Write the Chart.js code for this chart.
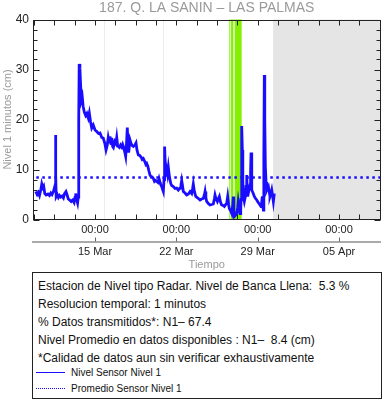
<!DOCTYPE html>
<html><head><meta charset="utf-8">
<script src="https://cdn.jsdelivr.net/npm/chart.js@4"></script>
<style>
html,body{margin:0;padding:0;background:#fff;}
body{width:382px;height:404px;overflow:hidden;position:relative;font-family:"Liberation Sans",Arial,sans-serif;color:#111;}
#wrap{position:absolute;left:0;top:0;width:382px;height:272px;}
#caja{position:absolute;left:32px;top:272px;width:348px;height:125px;border:1px solid #222;}
.lin{position:absolute;left:5px;font-size:12px;line-height:14px;white-space:pre;}
.ley{position:absolute;left:3px;font-size:10px;line-height:12px;white-space:pre;}
.mues{display:inline-block;width:29px;vertical-align:middle;margin-right:6px;position:relative;top:-1px;}
</style></head>
<body>
<div id="wrap"><canvas id="c" width="382" height="272"></canvas></div>
<div id="caja">
  <div class="lin" style="top:6px">Estacion de Nivel tipo Radar. Nivel de Banca Llena:  5.3 %</div>
  <div class="lin" style="top:24px">Resolucion temporal: 1 minutos</div>
  <div class="lin" style="top:42px">% Datos transmitidos*: N1– 67.4</div>
  <div class="lin" style="top:60px">Nivel Promedio en datos disponibles : N1–  8.4 (cm)</div>
  <div class="lin" style="top:78px">*Calidad de datos aun sin verificar exhaustivamente</div>
  <div class="ley" style="top:94px"><span class="mues" style="border-top:1.5px solid #1a0dff"></span>Nivel Sensor Nivel 1</div>
  <div class="ley" style="top:110px"><span class="mues" style="border-top:1.5px dotted #1a0dff"></span>Promedio Sensor Nivel 1</div>
</div>
<script>
// tiempo: días desde 15 Mar 00:00
const tiempo = [-5.10,-4.98,-4.88,-4.78,-4.66,-4.58,-4.50,-4.42,-4.32,-4.20,-4.05,-3.92,-3.80,-3.70,-3.58,-3.50,-3.44,-3.40,-3.37,-3.34,-3.25,-3.15,-3.05,-2.95,-2.84,-2.72,-2.62,-2.50,-2.40,-2.30,-2.18,-2.05,-1.92,-1.80,-1.72,-1.66,-1.58,-1.50,-1.44,-1.40,-1.36,-1.30,-1.24,-1.18,-1.10,-1.02,-0.92,-0.80,-0.70,-0.58,-0.49,-0.38,-0.28,-0.15,0.00,0.15,0.30,0.43,0.58,0.71,0.85,0.95,1.05,1.14,1.22,1.29,1.38,1.44,1.52,1.58,1.70,1.80,1.87,1.95,2.01,2.10,2.20,2.30,2.38,2.44,2.55,2.64,2.72,2.78,2.84,2.90,3.01,3.10,3.20,3.30,3.44,3.53,3.62,3.73,3.85,3.96,4.06,4.16,4.28,4.38,4.45,4.55,4.63,4.73,4.82,4.92,5.02,5.12,5.22,5.31,5.42,5.51,5.60,5.68,5.74,5.82,5.88,5.94,5.99,6.05,6.10,6.17,6.24,6.31,6.40,6.52,6.60,6.74,6.89,7.03,7.17,7.32,7.40,7.46,7.53,7.60,7.75,7.89,8.04,8.18,8.32,8.40,8.46,8.55,8.67,8.85,9.04,9.18,9.32,9.42,9.47,9.54,9.61,9.75,9.90,10.05,10.18,10.28,10.33,10.42,10.53,10.62,10.70,10.80,10.90,11.02,11.13,11.25,11.33,11.42,11.50,11.56,11.66,11.77,11.85,11.90,11.95,11.99,12.10,12.20,12.28,12.33,12.42,12.48,12.54,12.57,12.61,12.64,12.68,12.72,12.76,12.85,12.93,13.00,13.06,13.10,13.14,13.25,13.34,13.39,13.43,13.47,13.51,13.62,13.71,13.82,13.92,14.02,14.11,14.20,14.29,14.35,14.40,14.45,14.49,14.53,14.57,14.61,14.66,14.72,14.78,14.85,14.92,15.00,15.06,15.14,15.21,15.28,15.35,15.43];
const nivel = [5.6,5.0,5.4,4.8,6.0,7.1,6.4,6.7,5.2,4.9,5.1,4.8,5.3,5.0,5.6,6.3,5.8,16.9,9.0,4.6,5.0,4.4,4.8,4.5,4.7,4.3,5.2,5.6,4.9,4.1,3.9,3.6,3.9,3.4,4.4,5.2,4.0,3.3,4.5,20.0,31.1,30.3,27.0,23.9,24.6,22.6,21.5,20.8,21.2,20.3,21.3,19.5,18.3,18.9,17.9,17.6,17.2,17.3,16.4,16.3,15.2,13.9,14.8,16.4,15.5,16.6,15.2,16.3,14.6,14.4,15.6,15.2,16.4,14.7,14.6,14.4,14.9,14.5,15.0,14.6,13.6,12.6,15.5,18.4,15.0,13.4,15.9,15.2,14.8,14.6,14.9,15.3,13.8,12.9,12.8,12.5,12.0,12.2,11.6,11.0,11.2,10.6,9.8,8.9,8.6,8.5,8.2,7.6,7.8,7.6,7.4,8.2,7.4,6.8,6.6,6.0,5.6,8.0,14.6,11.0,8.6,9.9,9.0,10.4,8.6,7.2,6.8,6.6,6.2,6.3,5.9,6.3,7.0,7.8,6.8,5.6,5.3,4.9,5.1,5.6,5.2,6.2,7.1,5.6,4.6,4.3,3.9,4.1,4.2,5.0,5.6,4.4,3.6,3.2,2.9,3.0,3.1,4.2,4.9,4.1,3.6,4.2,4.6,3.5,2.9,2.8,2.6,3.0,3.2,4.6,3.0,2.2,1.8,1.2,2.8,4.6,2.0,0.6,0.9,1.2,2.4,3.6,2.2,1.2,2.0,4.0,12.0,18.7,13.9,8.0,4.6,3.6,4.5,6.6,8.9,6.0,4.6,5.9,6.9,9.5,13.4,8.5,5.9,5.2,4.6,4.2,3.9,3.5,3.2,2.9,2.6,3.5,4.6,2.5,1.9,12.0,28.9,20.0,10.6,7.5,5.9,6.3,6.6,5.5,4.6,5.2,5.9,4.8,3.6,5.2];
const promedio = 8.4;
const inicioPromedio = -5.05;
const rangoX = [-5.336, 24.57];
const rangoY = [0, 40];
const posMayores = [0, 7, 14, 21];
const etiquetasHora = ['00:00', '00:00', '00:00', '00:00'];
const etiquetasFecha = ['15 Mar', '22 Mar', '29 Mar', '05 Apr'];
const pasoMenorX = 1.75;
const pasoMenorY = 2;
const bandaVerde = [11.55, 12.62];
const franjasClaras = [[11.60, 11.71], [11.88, 12.05]];
const zonaGris = [15.33, 24.57];
const guias = [0.77, 5.85];
const titulo = '187. Q. LA SANIN – LAS PALMAS';

const AZUL = '#1a0dff';

const fondo = {
  id: 'fondo',
  beforeDatasetsDraw(chart) {
    const {ctx, chartArea: a, scales: {x}} = chart;
    ctx.save();
    ctx.strokeStyle = '#ececec'; ctx.lineWidth = 1;
    guias.forEach(g => { const p = Math.round(x.getPixelForValue(g)) + 0.5; ctx.beginPath(); ctx.moveTo(p, a.top); ctx.lineTo(p, a.bottom); ctx.stroke(); });
    ctx.fillStyle = '#e5e5e5';
    const g0 = x.getPixelForValue(zonaGris[0]), g1 = x.getPixelForValue(zonaGris[1]);
    ctx.fillRect(g0, a.top, g1 - g0, a.bottom - a.top);
    const v0 = x.getPixelForValue(bandaVerde[0]), v1 = x.getPixelForValue(bandaVerde[1]);
    ctx.fillStyle = '#84f000';
    ctx.fillRect(v0, a.top, v1 - v0, a.bottom - a.top);
    ctx.fillStyle = '#d6f7b4';
    franjasClaras.forEach(f => { const p0 = x.getPixelForValue(f[0]), p1 = x.getPixelForValue(f[1]); ctx.fillRect(p0, a.top, p1 - p0, a.bottom - a.top); });
    ctx.restore();
  }
};

const marco = {
  id: 'marco',
  afterDraw(chart) {
    const {ctx, chartArea: a, scales: {x, x2, y}} = chart;
    ctx.save();
    ctx.strokeStyle = '#222'; ctx.lineWidth = 1;
    const L = Math.round(a.left) + 0.5, R = Math.round(a.right) - 0.5, T = Math.round(a.top) + 0.5, B = Math.round(a.bottom) - 0.5;
    ctx.strokeRect(L, T, R - L, B - T);
    ctx.beginPath();
    for (let v = rangoY[0]; v <= rangoY[1]; v += pasoMenorY) {
      const p = Math.round(y.getPixelForValue(v)) + 0.5;
      const len = v % 10 === 0 ? 6 : 4;
      ctx.moveTo(L, p); ctx.lineTo(L + len, p);
      ctx.moveTo(R, p); ctx.lineTo(R - len, p);
    }
    for (let t = posMayores[0] - 3 * pasoMenorX; t <= rangoX[1]; t += pasoMenorX) {
      if (t < rangoX[0]) continue;
      const p = Math.round(x.getPixelForValue(t)) + 0.5;
      ctx.moveTo(p, T); ctx.lineTo(p, T + 5);
      ctx.moveTo(p, B); ctx.lineTo(p, B - 5);
    }
    ctx.stroke();
    ctx.strokeStyle = '#666';
    ctx.beginPath();
    posMayores.forEach(t => { const p = Math.round(x2.getPixelForValue(t)) + 0.5; ctx.moveTo(p, x2.top - 4); ctx.lineTo(p, x2.top); });
    ctx.stroke();
    ctx.fillStyle = '#9a9a9a';
    ctx.font = '14px "Liberation Sans", Arial, sans-serif';
    ctx.textAlign = 'center'; ctx.textBaseline = 'middle';
    ctx.fillText(titulo, (a.left + a.right) / 2, 8);
    ctx.restore();
  }
};

const fuente = '"Liberation Sans", Arial, sans-serif';
new Chart(document.getElementById('c'), {
  type: 'line',
  data: {
    datasets: [
      { label: 'Nivel Sensor Nivel 1', data: tiempo.map((t, i) => ({x: t, y: nivel[i]})), borderColor: AZUL, borderWidth: 2.8, pointRadius: 0, tension: 0, fill: false },
      { label: 'Promedio Sensor Nivel 1', data: [{x: inicioPromedio, y: promedio}, {x: rangoX[1], y: promedio}], borderColor: AZUL, borderWidth: 2.5, borderDash: [2.5, 3.5], pointRadius: 0, fill: false }
    ]
  },
  options: {
    responsive: false, animation: false, devicePixelRatio: 1,
    layout: { padding: { top: 19.5, right: 1.5, left: 0, bottom: 0 } },
    plugins: { legend: { display: false }, title: { display: false }, tooltip: { enabled: false } },
    scales: {
      x: {
        type: 'linear', position: 'bottom', weight: 0, min: rangoX[0], max: rangoX[1],
        afterBuildTicks: s => { s.ticks = posMayores.map(v => ({value: v})); },
        afterFit: s => { s.height = 22; },
        ticks: { callback: (v, i) => etiquetasHora[i], color: '#222', font: { family: fuente, size: 11 }, padding: 4, maxRotation: 0, autoSkip: false },
        grid: { display: false, drawTicks: false, tickLength: 0 }, border: { display: false }
      },
      x2: {
        type: 'linear', position: 'bottom', weight: 1, min: rangoX[0], max: rangoX[1],
        afterBuildTicks: s => { s.ticks = posMayores.map(v => ({value: v})); },
        afterFit: s => { s.height = 30.5; },
        ticks: { callback: (v, i) => etiquetasFecha[i], color: '#222', font: { family: fuente, size: 11 }, padding: 4, maxRotation: 0, autoSkip: false },
        grid: { display: false, drawTicks: false, tickLength: 0 }, border: { display: true, color: '#aaa', width: 2 },
        title: { display: true, text: 'Tiempo', color: '#9a9a9a', font: { family: fuente, size: 11 }, padding: { top: 0, bottom: 0 } }
      },
      y: {
        type: 'linear', position: 'left', min: rangoY[0], max: rangoY[1],
        afterFit: s => { s.width = 33; },
        ticks: { stepSize: 10, color: '#222', font: { family: fuente, size: 12 }, padding: 4 },
        grid: { display: false, drawTicks: false, tickLength: 0 }, border: { display: false },
        title: { display: true, text: 'Nivel 1 minutos (cm)', color: '#9a9a9a', font: { family: fuente, size: 11 }, padding: { top: 1, bottom: 0 } }
      }
    }
  },
  plugins: [fondo, marco]
});
</script>
</body></html>
